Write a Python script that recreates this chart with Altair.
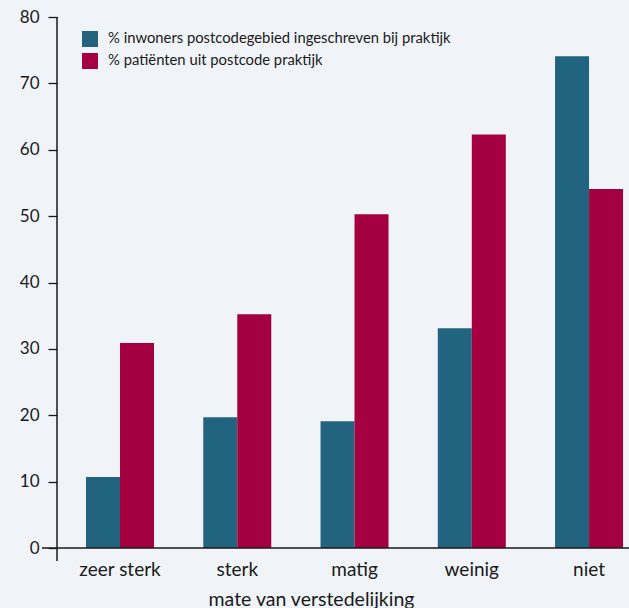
import altair as alt
import pandas as pd

categories = ["zeer sterk", "sterk", "matig", "weinig", "niet"]
series_names = ["% inwoners postcodegebied ingeschreven bij praktijk",
                "% patiënten uit postcode praktijk"]
inwoners = [10.7, 19.7, 19.1, 33.1, 74.1]
patienten = [30.9, 35.2, 50.3, 62.3, 54.1]
y_ticks = [0, 10, 20, 30, 40, 50, 60, 70, 80]

rows = []
for c, a, b in zip(categories, inwoners, patienten):
    rows.append({"cat": c, "serie": series_names[0], "val": a})
    rows.append({"cat": c, "serie": series_names[1], "val": b})
df = pd.DataFrame(rows)

FONT = "Lato"
W, H = 572, 531

bars = alt.Chart(df).mark_bar().encode(
    x=alt.X("cat:N", sort=categories,
            scale=alt.Scale(paddingInner=0.42, paddingOuter=0.149, align=0.83),
            axis=alt.Axis(title="mate van verstedelijking", labelAngle=0,
                          domain=False, ticks=False, tickSize=0,
                          labelBaseline="alphabetic", labelPadding=27,
                          titleX=254, titleY=57, titleAnchor="middle",
                          titleAlign="center", titleBaseline="alphabetic",
                          labelFontSize=19, titleFontSize=19.5,
                          titleFontWeight="normal", labelColor="#1a1a1a",
                          titleColor="#1a1a1a", labelFont=FONT, titleFont=FONT)),
    xOffset=alt.XOffset("serie:N", sort=series_names,
                        scale=alt.Scale(paddingInner=0, paddingOuter=0)),
    y=alt.Y("val:Q", scale=alt.Scale(domain=[0, 80], nice=False),
            axis=alt.Axis(title=None, values=y_ticks, domain=False, grid=False,
                          tickSize=9, tickColor="#1a1a1a", tickWidth=1.3,
                          labelPadding=9, labelFontSize=17, labelColor="#1a1a1a",
                          labelFont=FONT)),
    color=alt.Color("serie:N", sort=series_names,
                    scale=alt.Scale(domain=series_names, range=["#22647f", "#a40041"]),
                    legend=alt.Legend(title=None, orient="none", legendX=25, legendY=14,
                                      symbolType="square", symbolSize=256,
                                      symbolStrokeWidth=0, labelFontSize=14.8,
                                      labelColor="#1a1a1a", labelFont=FONT,
                                      labelLimit=0, rowPadding=6, labelOffset=10)),
)

yline = alt.Chart(pd.DataFrame({"a": [0]})).mark_rule(color="#1a1a1a", strokeWidth=1.5).encode(
    x=alt.value(0), y=alt.value(0), y2=alt.value(H + 13))
xline = alt.Chart(pd.DataFrame({"a": [0]})).mark_rule(color="#1a1a1a", strokeWidth=1.5).encode(
    y=alt.value(H), x=alt.value(-15), x2=alt.value(W))

chart = alt.layer(bars, yline, xline).properties(
    width=W, height=H,
    background="#f0f4f8",
    padding={"left": 57, "top": 17, "right": 0, "bottom": 60},
    autosize=alt.AutoSizeParams(type="none"),
).configure_view(stroke=None)

chart.save("out.html", embed_options={"renderer": "svg", "actions": False})
